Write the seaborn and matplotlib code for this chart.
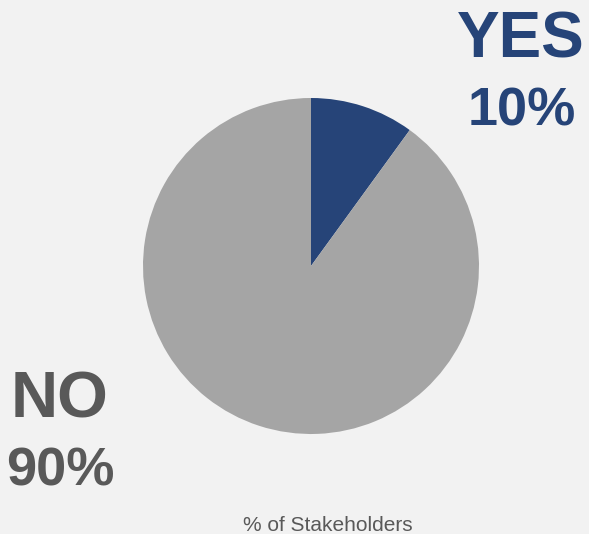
import matplotlib
matplotlib.use("Agg")
import matplotlib.pyplot as plt
import seaborn as sns

labels = ["YES", "NO"]
values = [10, 90]
colors = ["#264478", "#a5a5a5"]
caption = "% of Stakeholders"

sns.set_theme(style="white")
plt.rcParams["font.family"] = ["Liberation Sans", "DejaVu Sans"]

W, H = 589, 534
fig = plt.figure(figsize=(W / 100, H / 100), dpi=100)
fig.patch.set_facecolor("#f2f2f2")

cx, cy, r = 311, 266, 168
ax = fig.add_axes([(cx - r) / W, (H - cy - r) / H, 2 * r / W, 2 * r / H])
ax.set_facecolor("none")
ax.pie(values, colors=colors, startangle=90, counterclock=False, radius=1,
       wedgeprops=dict(linewidth=0))
ax.set_xlim(-1, 1)
ax.set_ylim(-1, 1)
ax.set_aspect("equal")
ax.axis("off")

def ftext(x, y, s, size, color, weight="bold"):
    fig.text(x / W, 1 - y / H, s, ha="center", va="baseline", fontsize=size,
             color=color, fontweight=weight)

ftext(521, 58, labels[0], 46, colors[0])
ftext(522, 125, f"{values[0]}%", 39, colors[0])
ftext(60, 418, labels[1], 47, "#595959")
ftext(60, 485, f"{values[1]}%", 39, "#595959")
ftext(328, 531, caption, 15, "#595959", weight="normal")

fig.savefig("out.png", dpi=100, facecolor=fig.get_facecolor())
